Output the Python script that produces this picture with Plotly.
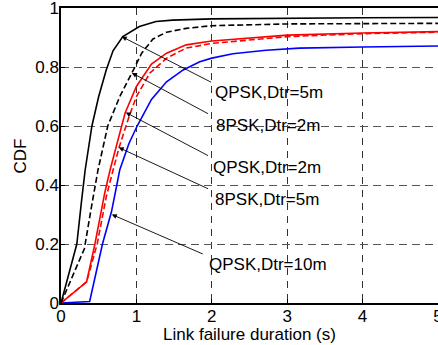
import plotly.graph_objects as go

# ---- data ----
x_qpsk5 = [0, 0.21, 0.27, 0.32, 0.41, 0.5, 0.6, 0.69, 0.82, 1.04, 1.26, 1.48, 2.0, 3.0, 4.0, 5.0]
y_qpsk5 = [0, 0.2, 0.34, 0.45, 0.6, 0.7, 0.79, 0.855, 0.903, 0.937, 0.954, 0.959, 0.963, 0.966, 0.967, 0.968]

x_8psk2 = [0, 0.31, 0.4, 0.49, 0.62, 0.78, 0.98, 1.07, 1.22, 1.4, 1.66, 2.0, 3.0, 4.0, 5.0]
y_8psk2 = [0, 0.184, 0.32, 0.45, 0.6, 0.7, 0.8, 0.847, 0.895, 0.918, 0.931, 0.94, 0.946, 0.947, 0.948]

x_qpsk2 = [0, 0.34, 0.45, 0.58, 0.65, 0.72, 0.85, 1.0, 1.2, 1.4, 1.66, 2.0, 2.5, 3.0, 4.0, 5.0]
y_qpsk2 = [0, 0.072, 0.2, 0.373, 0.45, 0.52, 0.644, 0.734, 0.81, 0.847, 0.875, 0.888, 0.898, 0.908, 0.915, 0.92]

x_8psk5 = [0, 0.34, 0.48, 0.6, 0.69, 0.77, 0.9, 1.0, 1.18, 1.4, 1.66, 2.0, 3.0, 4.0, 5.0]
y_8psk5 = [0, 0.072, 0.2, 0.36, 0.45, 0.527, 0.63, 0.70, 0.78, 0.83, 0.864, 0.88, 0.903, 0.913, 0.918]

x_qpsk10 = [0, 0.38, 0.55, 0.67, 0.74, 0.78, 0.9, 1.01, 1.2, 1.4, 1.62, 1.84, 2.0, 2.28, 2.72, 3.16, 4.0, 5.0]
y_qpsk10 = [0, 0.005, 0.2, 0.31, 0.4, 0.452, 0.54, 0.6, 0.69, 0.75, 0.79, 0.818, 0.83, 0.845, 0.857, 0.864, 0.868, 0.871]

labels = ["QPSK,Dtr=5m", "8PSK,Dtr=2m", "QPSK,Dtr=2m", "8PSK,Dtr=5m", "QPSK,Dtr=10m"]
arrow_tip_x = [0.806, 0.94, 0.859, 0.766, 0.674]
arrow_tip_y = [0.903, 0.78, 0.646, 0.527, 0.300]
arrow_tail_x = [2.01, 1.97, 1.97, 1.97, 1.90]
arrow_tail_y = [0.746, 0.639, 0.497, 0.385, 0.164]
label_x = [2.01, 2.035, 1.995, 2.01, 1.93]
label_y = [0.712, 0.601, 0.459, 0.350, 0.130]

x_ticks = [0, 1, 2, 3, 4, 5]
y_ticks = [0, 0.2, 0.4, 0.6, 0.8, 1]
x_title = "Link failure duration (s)"
y_title = "CDF"

FONT = "Liberation Sans, Arial, sans-serif"

fig = go.Figure()
series = [
    (x_qpsk10, y_qpsk10, "#0000ff", "solid"),
    (x_8psk5, y_8psk5, "#ff0000", "6px,3px"),
    (x_qpsk2, y_qpsk2, "#ff0000", "solid"),
    (x_8psk2, y_8psk2, "#000000", "6px,3px"),
    (x_qpsk5, y_qpsk5, "#000000", "solid"),
]
for xs, ys, col, dash in series:
    fig.add_trace(go.Scatter(x=xs, y=ys, mode="lines",
                             line=dict(color=col, width=1.6, dash=dash),
                             showlegend=False, hoverinfo="skip"))

anns = []
for i in range(len(labels)):
    anns.append(dict(x=arrow_tip_x[i], y=arrow_tip_y[i], xref="x", yref="y",
                     ax=arrow_tail_x[i], ay=arrow_tail_y[i], axref="x", ayref="y",
                     text="", showarrow=True, arrowhead=2, arrowsize=1.1,
                     arrowwidth=0.9, arrowcolor="#000000", standoff=0))
    anns.append(dict(x=label_x[i], y=label_y[i], xref="x", yref="y",
                     text=labels[i], showarrow=False, xanchor="left", yanchor="middle",
                     font=dict(family=FONT, size=17, color="#000000")))

# axis titles as annotations for exact placement
anns.append(dict(x=0.5, y=0, xref="paper", yref="paper", yshift=-31,
                 text=x_title, showarrow=False, xanchor="center", yanchor="middle",
                 font=dict(family=FONT, size=17, color="#000000")))
anns.append(dict(x=0, y=0.5, xref="paper", yref="paper", xshift=-41, yshift=-1,
                 text=y_title, showarrow=False, xanchor="center", yanchor="middle",
                 textangle=-90, font=dict(family=FONT, size=17, color="#000000")))

fig.update_layout(
    width=438, height=345,
    margin=dict(l=61, r=0, t=8, b=42),
    paper_bgcolor="white", plot_bgcolor="white",
    font=dict(family=FONT, size=17, color="#000000"),
    annotations=anns,
)
fig.update_xaxes(range=[0, 5], tickvals=x_ticks, showline=True, linecolor="#000000",
                 linewidth=1.5, mirror=True, ticks="inside", ticklen=4, tickcolor="#000000",
                 showgrid=True, gridcolor="#333333", gridwidth=1, griddash="7px,6px",
                 zeroline=False, ticklabelstandoff=-3, ticklabeloverflow="allow",
                 automargin=False)
fig.update_yaxes(range=[0, 1], tickvals=y_ticks, showline=True, linecolor="#000000",
                 linewidth=1.5, mirror=False, ticks="inside", ticklen=4, tickcolor="#000000",
                 showgrid=True, gridcolor="#555555", gridwidth=1, griddash="8px,5px",
                 zeroline=False, ticklabelstandoff=-3, ticklabeloverflow="allow",
                 automargin=False)

fig.write_html("out.html", config={"displayModeBar": False},
               post_script="document.body.style.margin='0';")
